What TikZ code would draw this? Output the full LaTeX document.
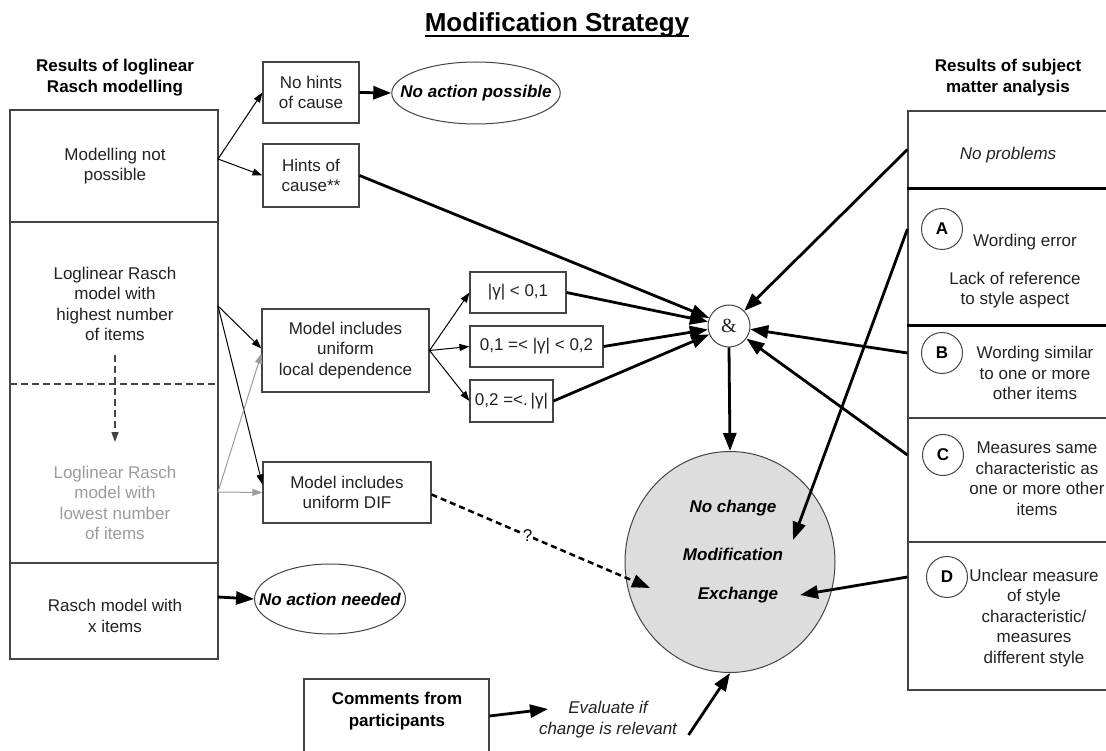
\documentclass[tikz,border=0pt]{standalone}
\usepackage{fontspec}
\setmainfont{Liberation Sans}
\newfontfamily\ampfont{Liberation Serif}
\usetikzlibrary{arrows.meta,shapes.geometric,calc}

\definecolor{edge}{HTML}{444444}
\definecolor{txt}{HTML}{222222}
\definecolor{faded}{HTML}{9C9C9C}
\definecolor{outfill}{HTML}{DDDDDD}

\begin{document}
\begin{tikzpicture}[x=1pt,y=-1pt,
  every node/.style={font=\fontsize{17}{20.5}\selectfont, text=txt, align=center},
  box/.style={draw=edge, line width=1.1pt, inner sep=0pt},
  outcome/.style={ellipse, draw=edge, line width=1pt, inner xsep=-17pt, inner ysep=0pt,
    font=\fontsize{17}{20.5}\selectfont\bfseries\itshape, text=black},
  head/.style={font=\fontsize{17}{21}\selectfont\bfseries, text=black},
  letter/.style={circle, draw=edge, line width=1pt, minimum size=41pt, inner sep=0pt,
    font=\fontsize{17}{20.5}\selectfont\bfseries, text=black},
  thin/.style={-{Triangle[length=10pt,width=7pt]}, line width=1pt, draw=black},
  greyarrow/.style={-{Triangle[length=10pt,width=7pt]}, line width=1pt, draw=faded, color=faded},
  thick/.style={-{Triangle[length=18pt,width=13pt]}, line width=2.8pt, draw=black},
  divider/.style={line width=3pt, draw=black}
]
\useasboundingbox (0,0) rectangle (1106,751);
\clip (0,0) rectangle (1106,751);
\fill[white] (0,0) rectangle (1106,751);

% title
\node[inner sep=0pt, anchor=base, font=\fontsize{26}{30}\selectfont\bfseries, text=black] (title) at (557,32) {Modification Strategy};
\draw[line width=2pt] ([yshift=-4.5pt]title.base west) -- ([yshift=-4.5pt]title.base east);

% column headers
\node[head] (lhead) at (115,77.5) {Results of loglinear\\Rasch modelling};
\node[head] (rhead) at (1008,77.5) {Results of subject\\matter analysis};

% left column: results of loglinear Rasch modelling
\node[box, minimum width=208pt, minimum height=549pt] (leftbox) at (114,384.5) {};
\draw[draw=edge, line width=1.1pt] (10,222) -- (218,222);
\draw[draw=edge, line width=1.3pt, dash pattern=on 7pt off 4pt] (10,384) -- (218,384);
\draw[draw=edge, line width=1.1pt] (10,563) -- (218,563);

\node (mnp) at (115,166) {Modelling not\\possible};
\node (high) at (115,304) {Loglinear Rasch\\model with\\highest number\\of items};
\node[text=faded] (low) at (115,503) {Loglinear Rasch\\model with\\lowest number\\of items};
\node (rasch) at (115,616) {Rasch model with\\x items};

\coordinate (dtop) at (115,355);
\coordinate (dbot) at (115,442);
\draw[draw=edge, line width=1.3pt, dash pattern=on 7pt off 4pt,
  -{Triangle[length=10pt,width=7pt]}] (dtop) -- (dbot);

% start points on the left column border
\coordinate (sMnp) at (218,159);
\coordinate (sHigh) at (218,306);
\coordinate (sLow) at (218,492);
\coordinate (sRasch) at (218,597);

% middle column boxes
\node[box, minimum width=96pt, minimum height=61pt] (nohints) at (311,92.5) {No hints\\of cause};
\node[box, minimum width=96pt, minimum height=63pt] (hints) at (311,175.5) {Hints of\\cause**};
\node[box, minimum width=167pt, minimum height=83pt] (localdep) at (345.5,350.5) {Model includes\\uniform\\local dependence};
\node[box, minimum width=168pt, minimum height=61pt] (dif) at (347,492.5) {Model includes\\uniform DIF};

\node[box, minimum width=96pt, minimum height=41pt] (g1) at (518,292.5) {|γ| < 0,1};
\node[box, minimum width=133pt, minimum height=41pt] (g2) at (536.5,346.5) {0,1 =< |γ| < 0,2};
\node[box, minimum width=83pt, minimum height=42pt] (g3) at (511.5,401) {0,2 =<.\,|γ|};

\node[outcome, inner xsep=-16pt, minimum height=62pt] (noposs) at (476,93) {No action possible};
\node[outcome, inner xsep=-17.5pt, minimum height=70pt] (noneed) at (330,599) {No action needed};

% combination node and decision circle
\node[circle, draw=edge, line width=1pt, minimum size=42pt, inner sep=0pt,
  font=\ampfont\fontsize{20}{22}\selectfont] (amp) at (729,326) {\&};
\node[ellipse, draw=edge, line width=1pt, fill=outfill, minimum width=210pt,
  minimum height=221pt, inner sep=0pt] (big) at (730,562) {};
\node[font=\fontsize{17}{20.5}\selectfont\bfseries\itshape, text=black] (nochange) at (733,508) {No change};
\node[font=\fontsize{17}{20.5}\selectfont\bfseries\itshape, text=black] (modif) at (733,554) {Modification};
\node[font=\fontsize{17}{20.5}\selectfont\bfseries\itshape, text=black] (exch) at (738,595) {Exchange};

% right column: results of subject matter analysis
\node[box, minimum width=212pt, minimum height=77pt] (secNP) at (1014,149.5) {};
\node[box, minimum width=212pt, minimum height=137pt] (secA) at (1014,256.5) {};
\node[box, minimum width=212pt, minimum height=93pt] (secB) at (1014,371.5) {};
\node[box, minimum width=212pt, minimum height=124pt] (secC) at (1014,480) {};
\node[box, minimum width=212pt, minimum height=148pt] (secD) at (1014,616) {};
\draw[divider] (secNP.south west) -- (secNP.south east);
\draw[divider] (secA.south west) -- (secA.south east);

\node[font=\fontsize{17}{20.5}\selectfont\itshape] (noprob) at (1008,155) {No problems};
\node[letter] (cA) at (942,229) {A};
\node (wording) at (1025,242) {Wording error};
\node (lack) at (1015,290) {Lack of reference\\to style aspect};
\node[letter] (cB) at (942,353) {B};
\node (tB) at (1035,373) {Wording similar\\to one or more\\other items};
\node[letter] (cC) at (943,455) {C};
\node (tC) at (1037,478.5) {Measures same\\characteristic as\\one or more other\\items};
\node[letter] (cD) at (947,577) {D};
\node (tD) at (1034,618) {Unclear measure\\of style\\characteristic/\\measures\\different style};

% comments from participants
\node[box, minimum width=185pt, minimum height=86pt] (comments) at (396.5,722) {};
\node[font=\fontsize{17}{22}\selectfont\bfseries, text=black] (ctext) at (397,711) {Comments from\\participants};
\node[font=\fontsize{17}{21}\selectfont\itshape] (eval) at (608,720) {Evaluate if\\change is relevant};
\coordinate (evalin) at (548,709);

% connectors: left column to middle
\draw[thin] (sMnp) -- (nohints.west);
\draw[thin] (sMnp) -- (hints.west);
\draw[thin] (sHigh) -- ([yshift=2pt]localdep.west);
\draw[thin] (sHigh) -- ([yshift=8pt]dif.west);
\draw[greyarrow] (sLow) -- ([yshift=-3pt]localdep.west);
\draw[greyarrow] (sLow) -- (dif.west);
\draw[thick] (nohints.east) -- (noposs.west);
\draw[thick] (sRasch) -- (noneed.west);

% local dependence thresholds
\draw[thin] (localdep.east) -- (g1.west);
\draw[thin] (localdep.east) -- (g2.west);
\draw[thin] (localdep.east) -- (g3.west);

% into the combination node
\draw[thick] (hints.east) -- (amp);
\draw[thick] (g1.east) -- (amp);
\draw[thick] (g2.east) -- (amp);
\draw[thick] (g3.east) -- (amp);
\draw[thick] (secNP.west) -- (amp);
\draw[thick] (secB.west |- cB) -- (amp);
\draw[thick] (secC.west |- cC) -- (amp);
\draw[thick] (amp.south) -- (big.north);

% direct inputs to the decision circle
\draw[thick] (secA.west |- cA) -- ($(big.center)+(63,-22)$);
\draw[thick] (secD.west |- cD) -- ($(big.center)+(70,33)$);
\draw[-{Triangle[length=18pt,width=13pt]}, line width=2.5pt, dash pattern=on 6pt off 4pt]
  ([yshift=-2pt]dif.east) -- node[pos=0.44, fill=white, inner sep=1pt, text=black] {?} ($(big.center)+(-80,26)$);

% comments path
\draw[thick] ([yshift=6pt]comments.east) -- (evalin);
\draw[thick] ([xshift=8pt,yshift=-15pt]eval.east) -- (big.south);
\end{tikzpicture}
\end{document}
